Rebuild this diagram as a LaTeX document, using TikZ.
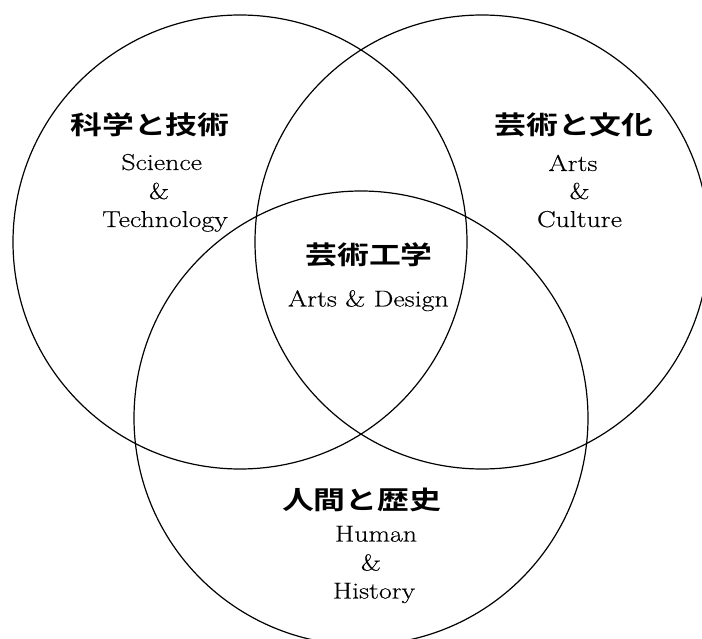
\documentclass[tikz,border=0pt]{standalone}
\usepackage{fontspec}
\setmainfont{Latin Modern Roman}[FakeStretch=1.21,FakeBold=0.4]
\newfontfamily\cjk{Noto Sans CJK JP}[FakeStretch=1.25,BoldFont={Noto Sans CJK JP Bold}]
\begin{document}
\begin{tikzpicture}[x=1pt,y=-1pt,
  ring/.style={draw=black,line width=1.2pt,circle,minimum size=454pt,inner sep=0pt},
  jp/.style={inner sep=0pt,font=\cjk\bfseries\fontsize{25.5}{30}\selectfont},
  en/.style={inner sep=0pt,anchor=base,font=\fontsize{23}{27}\selectfont}]
\useasboundingbox (0,0) rectangle (702,639);
\node[ring] (cl) at (240,242) {};
\node[ring] (cr) at (482,242) {};
\node[ring] (cb) at (361,418) {};
% left
\node[jp] (jl) at (150,124.5) {科学と技術};
\node[en] (l1) at (161.7,170) {Science};
\node[en] (l2) at (159,199) {\&};
\node[en] (l3) at (165,227) {Technology};
% right
\node[jp] (jr) at (574,124.5) {芸術と文化};
\node[en] (r1) at (573,171) {Arts};
\node[en] (r2) at (579.5,199) {\&};
\node[en] (r3) at (579.5,227) {Culture};
% centre
\node[jp] (jc) at (369,254.5) {芸術工学};
\node[en] (c1) at (368.3,306.5) {Arts \& Design};
% bottom
\node[jp] (jb) at (361.7,499.5) {人間と歴史};
\node[en] (b1) at (376,541.5) {Human};
\node[en] (b2) at (371,570.5) {\&};
\node[en] (b3) at (374,598.5) {History};
\end{tikzpicture}
\end{document}
